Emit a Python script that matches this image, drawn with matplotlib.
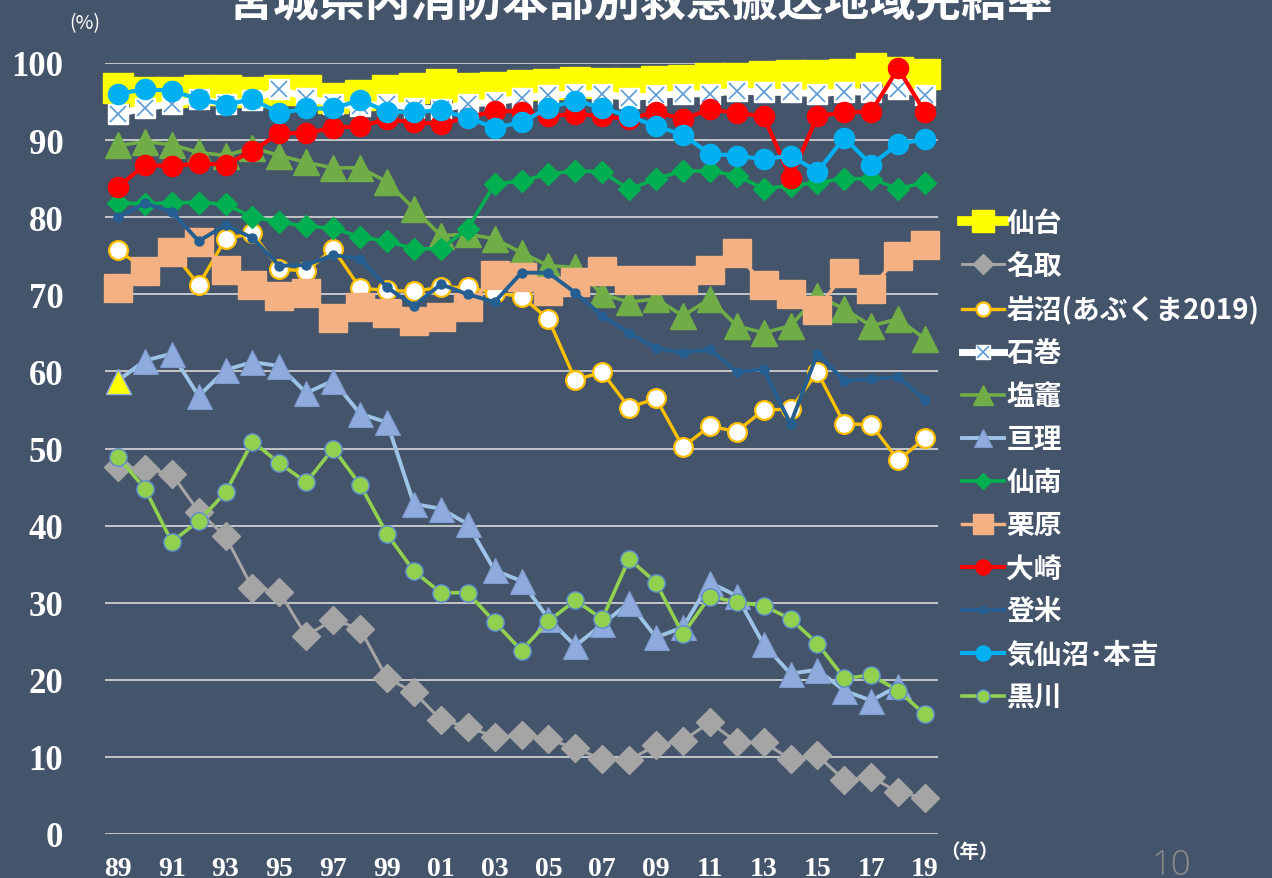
import numpy as np
import matplotlib
matplotlib.use("Agg")
import matplotlib.pyplot as plt
from matplotlib.lines import Line2D
from matplotlib.legend_handler import HandlerTuple

plt.rcParams['font.family'] = ['Noto Sans CJK JP', 'DejaVu Sans']

years = list(range(1989, 2020))
xtick_years = list(range(1989, 2020, 2))
xtick_labels = ['89', '91', '93', '95', '97', '99', '01', '03', '05', '07',
                '09', '11', '13', '15', '17', '19']
ytick_values = list(range(0, 101, 10))

sendai = [96.8, 96.3, 96.2, 96.5, 96.5, 96.2, 96.5, 96.5, 95.5, 95.8, 96.5,
          96.8, 97.3, 96.8, 96.9, 97.2, 97.3, 97.6, 97.4, 97.4, 97.7, 97.8,
          98.1, 98.1, 98.3, 98.4, 98.4, 98.6, 99.4, 98.8, 98.6]
natori = [47.6, 47.4, 46.7, 41.8, 38.6, 31.9, 31.4, 25.7, 27.8, 26.6, 20.2,
          18.4, 14.8, 13.9, 12.6, 12.8, 12.3, 11.1, 9.7, 9.6, 11.5, 12.1,
          14.5, 11.9, 11.9, 9.7, 10.2, 7.0, 7.4, 5.4, 4.7]
iwanuma = [75.7, 73.3, 75.6, 71.2, 77.2, 77.9, 73.3, 73.0, 75.9, 70.8, 70.5,
           70.4, 70.9, 70.9, 70.2, 69.7, 66.8, 58.9, 59.9, 55.3, 56.5, 50.2,
           52.9, 52.2, 55.0, 55.1, 59.9, 53.2, 53.1, 48.5, 51.3]
ishinomaki = [93.4, 94.2, 94.7, 95.3, 94.7, 95.2, 96.6, 95.5, 94.7, 94.4, 94.7,
              94.2, 94.0, 94.7, 94.9, 95.5, 95.8, 96.0, 96.0, 95.5, 95.8, 96.0,
              96.0, 96.4, 96.2, 96.2, 96.0, 96.3, 96.2, 96.6, 95.9]
shiogama = [89.3, 89.8, 89.4, 88.4, 88.0, 89.0, 88.0, 87.1, 86.4, 86.4, 84.6,
            81.1, 77.6, 77.8, 77.2, 75.4, 73.7, 73.5, 70.0, 69.0, 69.4, 67.2,
            69.4, 65.9, 65.0, 65.9, 69.8, 68.1, 65.9, 66.8, 64.2]
watari = [58.8, 61.4, 62.3, 56.8, 60.2, 61.2, 60.7, 57.2, 58.8, 54.5, 53.4,
          42.8, 42.2, 40.2, 34.2, 32.8, 27.9, 24.4, 27.2, 30.0, 25.5, 26.8,
          32.6, 30.9, 24.6, 20.8, 21.3, 18.6, 17.3, 19.2, np.nan]
sennan = [81.9, 81.7, 81.9, 81.9, 81.7, 80.0, 79.4, 78.8, 78.6, 77.4, 76.9,
          75.9, 75.9, 78.5, 84.3, 84.7, 85.6, 86.0, 85.9, 83.6, 85.0, 86.0,
          86.0, 85.4, 83.7, 84.1, 84.5, 85.0, 85.0, 83.7, 84.5]
kurihara = [70.8, 73.0, 75.5, 76.8, 73.2, 71.2, 69.8, 70.2, 66.9, 68.3, 67.6,
            66.5, 67.1, 68.3, 72.5, 72.3, 70.4, 71.6, 73.0, 71.9, 71.8, 71.9,
            73.2, 75.4, 71.2, 70.1, 68.0, 72.8, 70.7, 75.0, 76.4]
osaki = [83.9, 86.8, 86.6, 87.0, 86.8, 88.6, 90.9, 90.9, 91.6, 91.8, 92.7,
         92.3, 92.1, 92.9, 93.8, 93.7, 93.1, 93.4, 93.1, 92.7, 93.7, 92.7,
         94.0, 93.5, 93.1, 85.1, 93.1, 93.6, 93.7, 99.3, 93.6]
tome = [80.0, 81.8, 80.7, 76.9, 79.0, 77.3, 73.7, 73.8, 75.1, 74.6, 70.9,
        68.5, 71.3, 70.0, 69.0, 72.8, 72.8, 70.2, 67.2, 65.0, 63.0, 62.4,
        62.9, 59.9, 60.3, 53.2, 62.3, 58.8, 59.0, 59.3, 56.3]
kesennuma = [96.0, 96.6, 96.4, 95.3, 94.6, 95.3, 93.5, 94.1, 94.1, 95.2, 93.7,
             93.6, 93.9, 92.9, 91.6, 92.3, 94.2, 95.1, 94.2, 93.1, 91.8, 90.7,
             88.2, 88.0, 87.5, 88.0, 85.9, 90.3, 86.8, 89.5, 90.1]
kurokawa = [48.9, 44.8, 37.9, 40.6, 44.3, 50.9, 48.1, 45.6, 50.0, 45.3, 38.9,
            34.1, 31.3, 31.3, 27.5, 23.8, 27.6, 30.3, 27.9, 35.7, 32.6, 25.9,
            30.8, 30.1, 29.6, 27.9, 24.7, 20.2, 20.6, 18.6, 15.5]

labels = ['仙台', '名取', '岩沼(あぶくま2019)', '石巻', '塩竈', '亘理', '仙南',
          '栗原', '大崎', '登米', '気仙沼･本吉', '黒川']

BG = '#44546A'
fig = plt.figure(figsize=(12.72, 8.79), dpi=100, facecolor=BG)
ax = fig.add_axes([105/1272, 1-835/879, (938-105)/1272, (835-64)/879])
ax.set_facecolor(BG)

z = 3
def P(data, **kw):
    global z
    ln, = ax.plot(years, data, clip_on=False, zorder=z, **kw)
    z += 1
    return ln

h_sendai = P(sendai, color='#FFFF00', lw=7, marker='s', ms=21, mec='#FFFF00', mfc='#FFFF00')
h_natori = P(natori, color='#A5A5A5', lw=2.2, marker='D', ms=14, mec='#A5A5A5', mfc='#A5A5A5')
h_iwa = P(iwanuma, color='#FFC000', lw=2.4, marker='o', ms=13.5, mfc='white', mec='#FFC000', mew=1.6)
h_ishi = P(ishinomaki, color='white', lw=5, marker='s', ms=14, mfc='white', mec='white')
h_ishix, = ax.plot(years, ishinomaki, ls='none', marker='x', ms=12, mec='#5B9BD5', mew=1.2,
                   clip_on=False, zorder=z)
z += 1
h_shio = P(shiogama, color='#70AD47', lw=2.6, marker='^', ms=19, mfc='#70AD47', mec='#70AD47')
h_wata = P(watari, color='#9DC3E6', lw=2.8, marker='^', ms=18, mfc='#8FAADC', mec='#7F9CD0', mew=0.8)
ax.plot(years[:1], watari[:1], ls='none', marker='^', ms=18, mfc='#FFFF00', mec='#8FAADC',
        mew=1.0, clip_on=False, zorder=z - 1)
h_senn = P(sennan, color='#00B050', lw=2.6, marker='D', ms=11, mfc='#00B050', mec='#00B050')
h_kuri = P(kurihara, color='#F4B183', lw=2.5, marker='s', ms=20, mfc='#F4B183', mec='#F4B183')
h_osaki = P(osaki, color='#FF0000', lw=3, marker='o', ms=14.5, mfc='#FF0000', mec='#FF0000')
h_tome = P(tome, color='#255E91', lw=2.8, marker='o', ms=6.5, mfc='#255E91', mec='#255E91')
h_kese = P(kesennuma, color='#00B0F0', lw=3, marker='o', ms=14.5, mfc='#00B0F0', mec='#00B0F0')
h_kuro = P(kurokawa, color='#92D050', lw=2.6, marker='o', ms=12.5, mfc='#92D050', mec='#5B8BD0', mew=1.0)

ax.set_xlim(1988.517, 2019.483)
ax.set_ylim(0, 100)
ax.set_yticks(ytick_values)
ax.set_xticks(xtick_years)
ax.set_xticklabels(xtick_labels)
ax.yaxis.grid(True, color='#D9D9D9', lw=1.2, zorder=1)
ax.set_axisbelow(True)
for s in ax.spines.values():
    s.set_visible(False)
ax.tick_params(axis='both', length=0, colors='white')
ax.tick_params(axis='y', pad=30)
ax.tick_params(axis='x', pad=16)
for t in ax.get_yticklabels():
    t.set_fontfamily('Liberation Serif'); t.set_fontweight('bold'); t.set_fontsize(25)
for t in ax.get_xticklabels():
    t.set_fontfamily('Liberation Serif'); t.set_fontweight('bold'); t.set_fontsize(20)

leg_handles = [h_sendai, h_natori, h_iwa, (h_ishi, h_ishix), h_shio, h_wata, h_senn,
               h_kuri, h_osaki, h_tome, h_kese, h_kuro]
leg = fig.legend(leg_handles, labels, loc='upper left', bbox_to_anchor=(962/1272, 1-210/879),
                 frameon=False, markerscale=0.75, handlelength=1.5, handletextpad=0.1,
                 labelspacing=0.54, borderaxespad=0, borderpad=0,
                 handler_map={tuple: HandlerTuple(ndivide=1, pad=0)},
                 prop={'family': ['Noto Sans CJK JP', 'DejaVu Sans'], 'weight': 'bold', 'size': 20})
for t in leg.get_texts():
    t.set_color('white')

fig.text(641/1272, 1-3/879, '宮城県内消防本部別救急搬送地域完結率', ha='center', va='center',
         color='white', fontsize=33, fontweight='bold')
fig.text(85/1272, 1-24/879, '(%)', ha='center', va='center', color='white', fontsize=14)
fig.text(969/1272, 1-853/879, '（年）', ha='center', va='center', color='white', fontsize=14,
         fontweight='bold')
fig.text(1171/1272, 1-866/879, '10', ha='center', va='center', color='#8C8C8C', fontsize=25,
         family='Open Sans', fontweight='light')

fig.savefig('out.png', dpi=100, facecolor=BG)
